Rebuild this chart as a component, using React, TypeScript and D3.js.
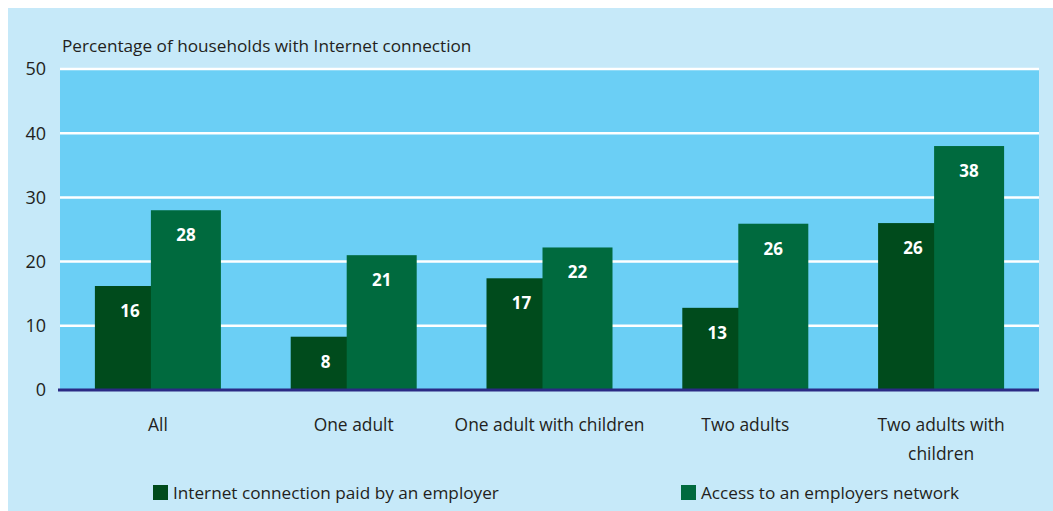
import React from "react";
import * as d3 from "d3";

const categories: string[][] = [
  ["All"],
  ["One adult"],
  ["One adult with children"],
  ["Two adults"],
  ["Two adults with", "children"],
];
const paidByEmployer = [16.2, 8.3, 17.4, 12.8, 26];
const accessNetwork = [28, 21, 22.2, 25.9, 38];
const yTicks = [0, 10, 20, 30, 40, 50];
const seriesNames = ["Internet connection paid by an employer", "Access to an employers network"];
const colors = ["#004b1c", "#006a3e"];
const yTitle = "Percentage of households with Internet connection";

const W = 1053;
const H = 511;
const plot = { left: 60, right: 1039, top: 69, bottom: 390 };
const FONT = "'Open Sans', sans-serif";

export default function App() {
  const x = d3
    .scaleBand<number>()
    .domain(categories.map((_, i) => i))
    .range([plot.left, plot.right])
    .paddingInner(0)
    .paddingOuter(0);
  const y = d3.scaleLinear().domain([0, 50]).range([plot.bottom, plot.top]);
  const barW = 70;
  const overlap = 14;
  const groupW = barW * 2 - overlap;

  return (
    <svg
      width={W}
      height={H}
      style={{ position: "absolute", left: 0, top: 0 }}
      fontFamily={FONT}
    >
      <rect x={0} y={0} width={W} height={H} fill="#ffffff" />
      <rect x={8} y={8} width={W - 8} height={H - 8} fill="#c6e9f9" />
      <rect
        x={plot.left}
        y={plot.top}
        width={plot.right - plot.left}
        height={plot.bottom - plot.top}
        fill="#6bcff5"
      />
      {yTicks.map((t) =>
        t > 0 ? (
          <line
            key={"g" + t}
            x1={plot.left}
            x2={plot.right}
            y1={y(t)}
            y2={y(t)}
            stroke="#ffffff"
            strokeWidth={2.5}
          />
        ) : null
      )}
      {yTicks.map((t) => (
        <text
          key={"t" + t}
          x={46}
          y={y(t)}
          dy="0.35em"
          textAnchor="end"
          fontSize={18}
          fill="#231f20"
        >
          {t}
        </text>
      ))}
      <text x={62} y={52} fontSize={17.2} fill="#231f20">
        {yTitle}
      </text>
      {categories.map((c, i) => {
        const cx = (x(i) as number) + x.bandwidth() / 2;
        const x0 = cx - groupW / 2;
        const x1 = x0 + barW - overlap;
        const v0 = paidByEmployer[i];
        const v1 = accessNetwork[i];
        return (
          <g key={"c" + i}>
            <rect x={x0} y={y(v0)} width={barW} height={y(0) - y(v0)} fill={colors[0]} />
            <rect x={x1} y={y(v1)} width={barW} height={y(0) - y(v1)} fill={colors[1]} />
            <text
              x={x0 + barW / 2}
              y={y(v0) + 25}
              dy="0.35em"
              textAnchor="middle"
              fontSize={17}
              fontWeight="bold"
              fill="#ffffff"
            >
              {Math.round(v0)}
            </text>
            <text
              x={x1 + barW / 2}
              y={y(v1) + 25}
              dy="0.35em"
              textAnchor="middle"
              fontSize={17}
              fontWeight="bold"
              fill="#ffffff"
            >
              {Math.round(v1)}
            </text>
            {c.map((line, j) => (
              <text
                key={j}
                x={cx}
                y={425 + j * 29}
                dy="0.35em"
                textAnchor="middle"
                fontSize={17.4}
                fill="#231f20"
              >
                {line}
              </text>
            ))}
          </g>
        );
      })}
      <line
        x1={plot.left - 2}
        x2={plot.right}
        y1={plot.bottom}
        y2={plot.bottom}
        stroke="#2b2a85"
        strokeWidth={3}
      />
      {seriesNames.map((s, i) => {
        const lx = i === 0 ? 153 : 681;
        return (
          <g key={"l" + i}>
            <rect x={lx} y={485} width={15} height={15} fill={colors[i]} />
            <text x={lx + 20} y={492.5} dy="0.35em" fontSize={17.2} fill="#231f20">
              {s}
            </text>
          </g>
        );
      })}
    </svg>
  );
}
